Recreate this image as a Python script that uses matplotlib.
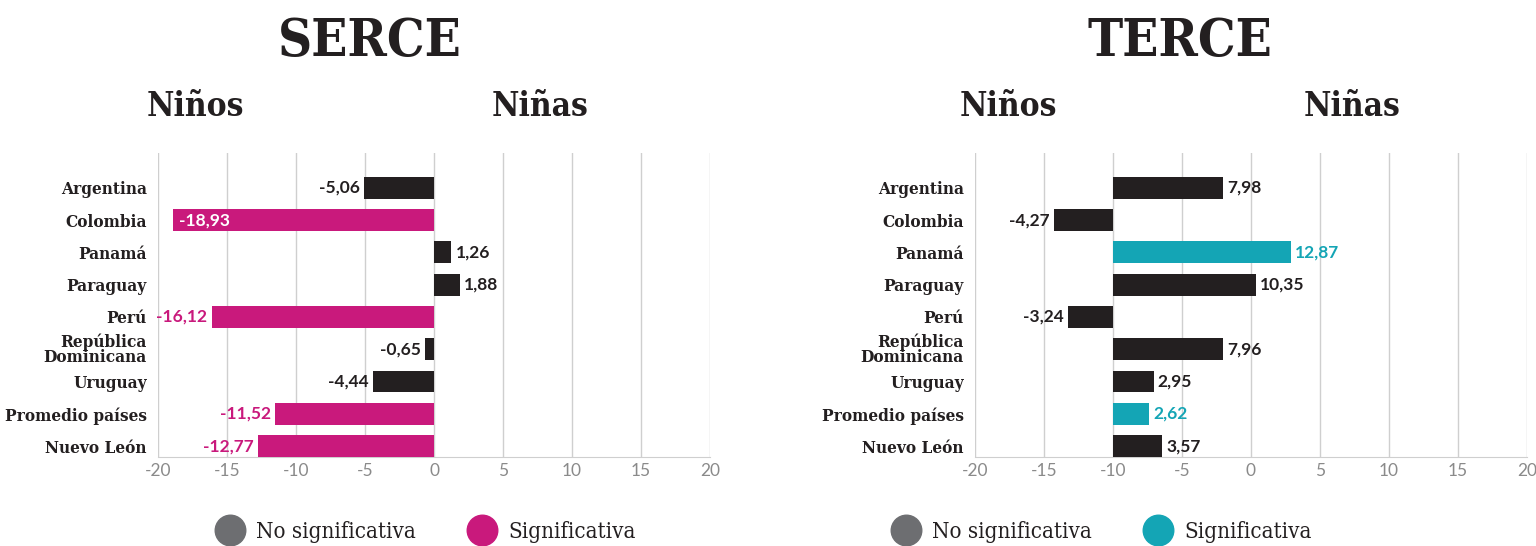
import matplotlib
matplotlib.use("Agg")
import matplotlib.pyplot as plt
from matplotlib.lines import Line2D

# data
countries = ["Argentina", "Colombia", "Panamá", "Paraguay", "Perú",
             "República\nDominicana", "Uruguay", "Promedio países", "Nuevo León"]
serce_vals = [-5.06, -18.93, 1.26, 1.88, -16.12, -0.65, -4.44, -11.52, -12.77]
serce_sig = [False, True, False, False, True, False, False, True, True]
terce_vals = [7.98, -4.27, 12.87, 10.35, -3.24, 7.96, 2.95, 2.62, 3.57]
terce_sig = [False, False, True, False, False, False, False, True, False]
ticks = [-20, -15, -10, -5, 0, 5, 10, 15, 20]

BLACK = "#231f20"
MAGENTA = "#c9197c"
TEAL = "#14a5b5"
GREY = "#6d6e71"
GRID = "#cfcfcf"

SLAB = "DejaVu Serif"
NUM = "Lato"

W, H = 1536, 546
fig = plt.figure(figsize=(W / 100, H / 100), dpi=100)


def px(x, y):
    return x / W, 1 - y / H


def fmt(v):
    return f"{v:.2f}".replace(".", ",")


def draw_panel(left_px, vals, sig, sig_color, base):
    ax = fig.add_axes([left_px / W, (H - 457) / H, 552 / W, 304 / H])
    y = list(range(len(countries)))
    colors = [sig_color if s else BLACK for s in sig]
    ax.barh(y, vals, left=base, height=0.68, color=colors, zorder=3)
    ax.set_xlim(-20, 20)
    ax.set_ylim(8.34, -1.08)
    ax.set_xticks(ticks)
    ax.set_xticklabels([str(t) for t in ticks], fontfamily=NUM, fontsize=12.5, color="#8a8a8a")
    ax.set_yticks(y)
    ax.set_yticklabels(countries, fontfamily=SLAB, fontweight="bold", fontsize=12.3,
                       color=BLACK, linespacing=0.8, fontstretch="condensed")
    ax.tick_params(axis="both", length=0)
    ax.tick_params(axis="x", pad=4)
    ax.tick_params(axis="y", pad=8)
    ax.grid(axis="x", color=GRID, lw=1, zorder=0)
    for s in ["top", "right", "left"]:
        ax.spines[s].set_visible(False)
    ax.spines["bottom"].set_color(GRID)
    for yi, v, s in zip(y, vals, sig):
        end = base + v
        col = sig_color if s else BLACK
        kw = dict(va="center", fontfamily=NUM, fontweight="bold", fontsize=12.5, zorder=4)
        if v >= 0:
            ax.text(end + 0.3, yi, fmt(v), ha="left", color=col, **kw)
        elif end < -17:
            ax.text(end + 0.45, yi, fmt(v), ha="left", color="white", **kw)
        else:
            ax.text(end - 0.3, yi, fmt(v), ha="right", color=col, **kw)
    return ax


draw_panel(158, serce_vals, serce_sig, MAGENTA, 0)
draw_panel(975, terce_vals, terce_sig, TEAL, -10)

# titles
for x, t in [(370, "SERCE"), (1180, "TERCE")]:
    fig.text(*px(x, 56), t, ha="center", va="baseline", fontfamily=SLAB,
             fontweight="bold", fontstretch="condensed", fontsize=38, color=BLACK)
for x, t in [(195, "Niños"), (540, "Niñas"), (1008, "Niños"), (1352, "Niñas")]:
    fig.text(*px(x, 116), t, ha="center", va="baseline", fontfamily=SLAB,
             fontweight="bold", fontstretch="condensed", fontsize=24, color=BLACK)

# legends
for x, c in [(215, MAGENTA), (891, TEAL)]:
    handles = [Line2D([], [], ls="", marker="o", ms=22, color=GREY),
               Line2D([], [], ls="", marker="o", ms=22, color=c)]
    fig.legend(handles, ["No significativa", "Significativa"], ncol=2,
               loc="center left", bbox_to_anchor=px(x, 532), frameon=False,
               borderpad=0, borderaxespad=0, handlelength=1.35, handletextpad=0.5,
               columnspacing=2.3, prop={"family": SLAB, "size": 16, "stretch": "condensed"},
               labelcolor=BLACK)

fig.savefig("out.png", dpi=100)
